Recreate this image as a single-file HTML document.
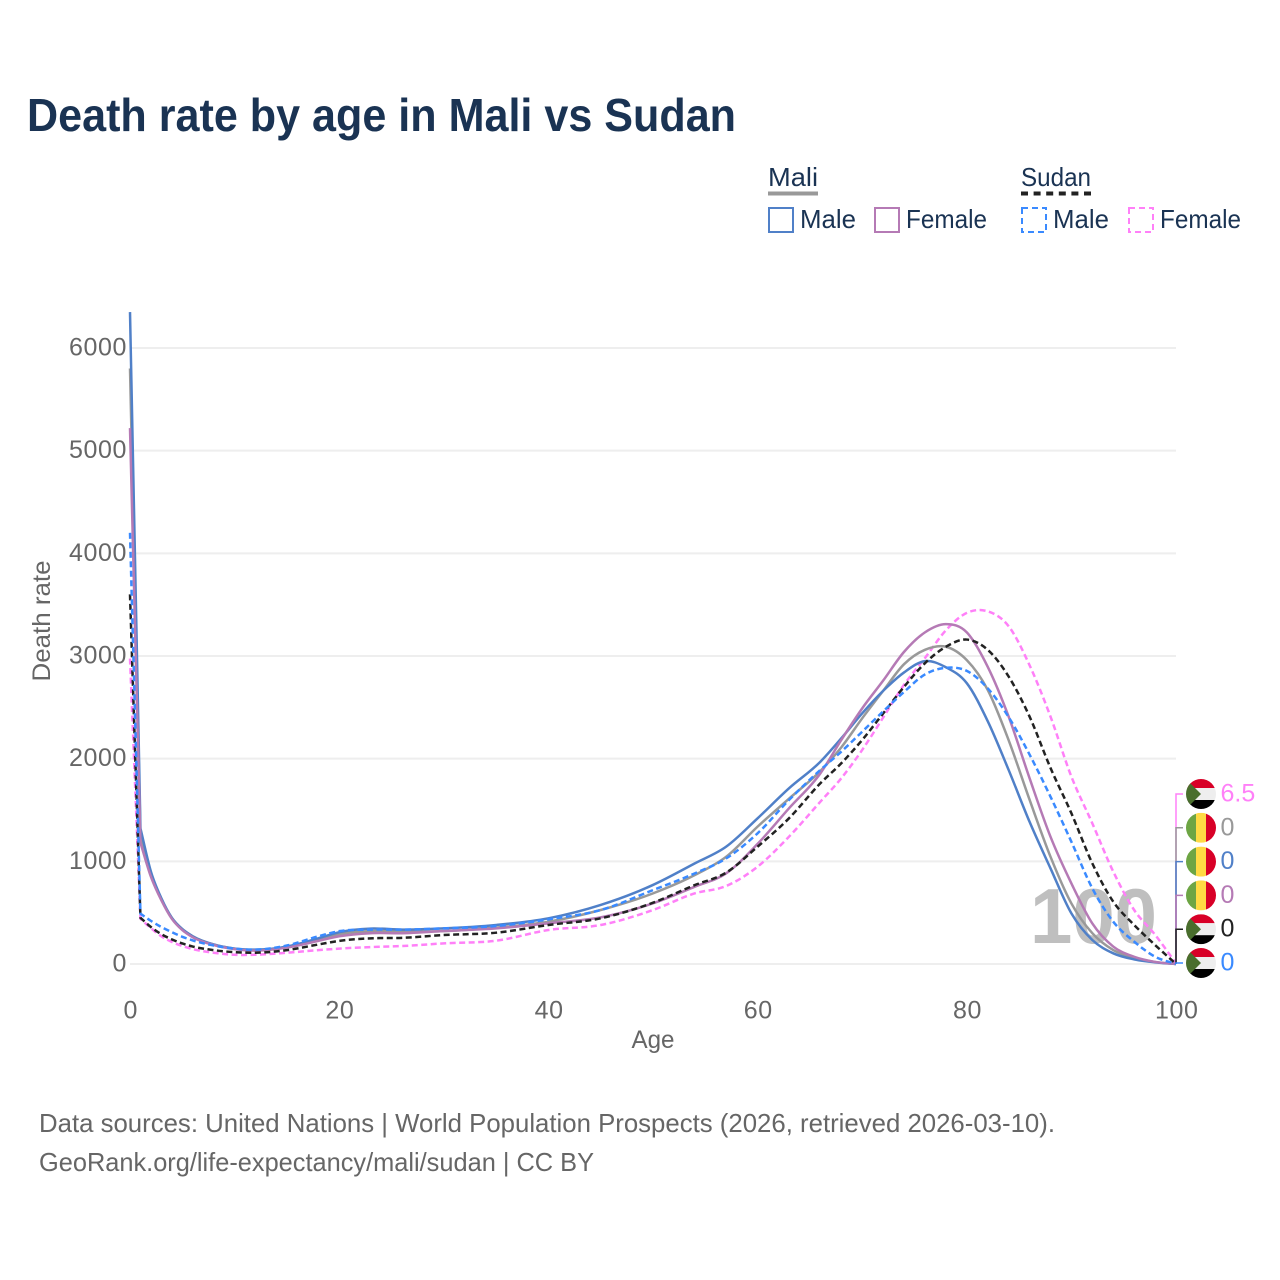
<!DOCTYPE html>
<html lang="en">
<head>
<meta charset="utf-8">
<title>Death rate by age in Mali vs Sudan</title>
<style>
html,body{margin:0;padding:0;background:#fff;}
svg{display:block;font-family:"Liberation Sans",sans-serif;}
</style>
</head>
<body>
<svg id="chart" width="1280" height="1280" viewBox="0 0 1280 1280" xmlns="http://www.w3.org/2000/svg">
  <rect x="0" y="0" width="1280" height="1280" fill="#ffffff"/>
  <text x="27" y="131" font-size="46" font-weight="700" fill="#1a3353" textLength="709" lengthAdjust="spacingAndGlyphs">Death rate by age in Mali vs Sudan</text>

  <g font-size="26" fill="#1a3353">
    <text x="768" y="186" textLength="50" lengthAdjust="spacingAndGlyphs">Mali</text>
    <line x1="768" x2="818" y1="193.500" y2="193.500" stroke="#999999" stroke-width="4"/>
    <text x="1021" y="186" textLength="70" lengthAdjust="spacingAndGlyphs">Sudan</text>
    <line x1="1021" x2="1091" y1="193.500" y2="193.500" stroke="#222222" stroke-width="4" stroke-dasharray="7 5.600"/>

    <rect x="769" y="208" width="24" height="24" fill="none" stroke="#5080c8" stroke-width="2"/>
    <text x="800" y="228" textLength="56" lengthAdjust="spacingAndGlyphs">Male</text>
    <rect x="875" y="208" width="24" height="24" fill="none" stroke="#b57ab5" stroke-width="2"/>
    <text x="906" y="228" textLength="81" lengthAdjust="spacingAndGlyphs">Female</text>
    <rect x="1022" y="208" width="24" height="24" fill="none" stroke="#3a8aff" stroke-width="2" stroke-dasharray="6 4"/>
    <text x="1053" y="228" textLength="56" lengthAdjust="spacingAndGlyphs">Male</text>
    <rect x="1129" y="208" width="24" height="24" fill="none" stroke="#ff80f8" stroke-width="2" stroke-dasharray="6 4"/>
    <text x="1160" y="228" textLength="81" lengthAdjust="spacingAndGlyphs">Female</text>
  </g>

  <g id="grid"></g>
  <text id="watermark" x="1030" y="943" font-size="78" font-weight="700" fill="#bfbfbf" textLength="127" lengthAdjust="spacingAndGlyphs"></text>
  <g id="yticks" font-size="25" fill="#666666" text-anchor="end"></g>
  <g id="xticks" font-size="25" fill="#666666" text-anchor="middle"></g>
  <text x="653" y="1048" font-size="25" fill="#666666" text-anchor="middle" textLength="43" lengthAdjust="spacingAndGlyphs">Age</text>
  <text transform="translate(50,621) rotate(-90)" font-size="25" fill="#666666" text-anchor="middle" textLength="121" lengthAdjust="spacingAndGlyphs">Death rate</text>
  <g id="lines" fill="none" stroke-width="2.500"></g>
  <g id="endlabels"></g>

  <g font-size="26" fill="#666666">
    <text x="39" y="1132" textLength="1016" lengthAdjust="spacingAndGlyphs">Data sources: United Nations | World Population Prospects (2026, retrieved 2026-03-10).</text>
    <text x="39" y="1171" textLength="555" lengthAdjust="spacingAndGlyphs">GeoRank.org/life-expectancy/mali/sudan | CC BY</text>
  </g>
</svg>
<script>
const ages = [0,1,2,3,4,5,6,8,10,12,15,18,20,23,26,30,35,40,45,50,54,57,60,63,66,68,70,72,74,76,78,80,82,84,86,88,90,92,94,96,98,100];
const maliMale = [6350,1320,900,640,450,340,270,190,150,140,170,250,310,345,335,347,380,445,575,770,980,1143,1419,1711,1970,2198,2442,2660,2840,2950,2890,2735,2365,1890,1385,932,493,234,104,45,16,0];
const maliTotal = [5800,1250,880,630,450,340,270,190,150,135,165,240,290,320,315,320,355,412,526,688,867,1045,1338,1610,1880,2110,2393,2660,2920,3060,3090,2960,2670,2180,1600,1045,590,300,136,60,20,0];
const maliFemale = [5220,1180,850,620,440,330,260,185,145,130,160,225,270,300,300,321,347,396,454,591,753,883,1170,1516,1857,2182,2490,2760,3040,3230,3310,3230,2895,2410,1810,1240,785,395,170,70,20,0];
const sudanMale = [4200,490,420,360,310,265,230,180,150,140,180,270,320,335,335,347,370,435,526,720,883,1029,1273,1597,1890,2068,2263,2460,2650,2820,2885,2855,2685,2405,2040,1630,1190,737,412,218,71,0];
const sudanTotal = [3600,450,360,290,240,200,170,135,115,110,135,190,225,250,255,282,305,380,445,597,769,890,1143,1419,1760,1955,2182,2440,2700,2930,3090,3160,3060,2800,2410,1910,1468,980,607,380,185,0];
const sudanFemale = [2975,440,350,270,215,175,145,110,90,90,110,135,150,165,175,201,227,331,380,526,688,760,948,1240,1581,1809,2085,2400,2720,2980,3250,3420,3435,3290,2910,2410,1825,1370,900,526,285,6.5];
const yTickValues = [0,1000,2000,3000,4000,5000,6000];
const xTickValues = [0,20,40,60,80,100];

const svgNS = 'http://www.w3.org/2000/svg';
function xScale(age){ return 130 + age * 10.46; }
function yScale(v){ return 964 - v * 0.10267; }
function make(tag, attrs, parent){
  const el = document.createElementNS(svgNS, tag);
  for (const k in attrs) el.setAttribute(k, attrs[k]);
  parent.appendChild(el);
  return el;
}

const grid = document.getElementById('grid');
const yticks = document.getElementById('yticks');
const xticks = document.getElementById('xticks');
yTickValues.forEach(function(v){
  const gl = make('line', {x1:xScale(0), x2:xScale(100), y1:yScale(v), y2:yScale(v), stroke:'#eeeeee', 'stroke-width':2}, grid);
  
  
  const t = make('text', {x:127, y:yScale(v) + 7.500}, yticks);
  
  
  t.setAttribute('letter-spacing', '0.600');
  t.textContent = String(v);
});
xTickValues.forEach(function(v){
  const t = make('text', {x:xScale(v) + 0.700, y:1018.500}, xticks);
  
  
  t.setAttribute('letter-spacing', '0.600');
  t.textContent = String(v);
});
document.getElementById('watermark').textContent = String(ages[ages.length - 1]);

/* Smooth cubic path through the points; the first segment (age 0 to 1) stays straight. */
function linePath(values){
  const px = ages.map(xScale);
  const py = values.map(yScale);
  const n = px.length;
  const s = [];
  for (let i = 0; i < n - 1; i++) s.push((py[i + 1] - py[i]) / (px[i + 1] - px[i]));
  const m = new Array(n).fill(0);
  m[1] = s[1];
  m[n - 1] = s[n - 2];
  for (let i = 2; i < n - 1; i++) {
    const h0 = px[i] - px[i - 1];
    const h1 = px[i + 1] - px[i];
    m[i] = (s[i - 1] * h1 + s[i] * h0) / (h0 + h1);
  }
  let d = 'M' + px[0].toFixed(2) + ' ' + py[0].toFixed(2) + 'L' + px[1].toFixed(2) + ' ' + py[1].toFixed(2);
  for (let i = 1; i < n - 1; i++) {
    const h = (px[i + 1] - px[i]) / 3;
    d += 'C' + (px[i] + h).toFixed(2) + ' ' + (py[i] + m[i] * h).toFixed(2) + ' ' +
         (px[i + 1] - h).toFixed(2) + ' ' + (py[i + 1] - m[i + 1] * h).toFixed(2) + ' ' +
         px[i + 1].toFixed(2) + ' ' + py[i + 1].toFixed(2);
  }
  return d;
}

const lines = document.getElementById('lines');

const lineSudanFemale = make('path', {d:linePath(sudanFemale), stroke:'#ff80f8', 'stroke-dasharray':'6 3.500'}, lines);



const lineMaliTotal = make('path', {d:linePath(maliTotal), stroke:'#999999'}, lines);



const lineMaliMale = make('path', {d:linePath(maliMale), stroke:'#5080c8'}, lines);



const lineMaliFemale = make('path', {d:linePath(maliFemale), stroke:'#b57ab5'}, lines);



const lineSudanTotal = make('path', {d:linePath(sudanTotal), stroke:'#222222', 'stroke-dasharray':'6 3.500'}, lines);



const lineSudanMale = make('path', {d:linePath(sudanMale), stroke:'#3a8aff', 'stroke-dasharray':'6 3.500'}, lines);



/* End-of-line labels, stacked from top to bottom */
const endGroup = document.getElementById('endlabels');
const endEntries = [
  {values:sudanFemale, color:'#ff80f8', flag:'sudan', slug:'sudan-female'},
  {values:maliTotal, color:'#999999', flag:'mali', slug:'mali-total'},
  {values:maliMale, color:'#5080c8', flag:'mali', slug:'mali-male'},
  {values:maliFemale, color:'#b57ab5', flag:'mali', slug:'mali-female'},
  {values:sudanTotal, color:'#222222', flag:'sudan', slug:'sudan-total'},
  {values:sudanMale, color:'#3a8aff', flag:'sudan', slug:'sudan-male'}
];

function drawFlag(kind, cx, cy, parent){
  const r = 15;
  const clipId = 'flag-clip-' + cx + '-' + Math.round(cy);
  const defs = make('defs', {}, parent);
  const cp = make('clipPath', {id:clipId}, defs);
  make('circle', {cx:cx, cy:cy, r:r}, cp);
  const g = make('g', {'clip-path':'url(#' + clipId + ')'}, parent);
  
  
  if (kind === 'mali') {
    make('rect', {x:cx - r, y:cy - r, width:10, height:30, fill:'#6da544'}, g);
    make('rect', {x:cx - 5, y:cy - r, width:10, height:30, fill:'#ffda44'}, g);
    make('rect', {x:cx + 5, y:cy - r, width:10, height:30, fill:'#d80027'}, g);
  } else {
    make('rect', {x:cx - r, y:cy - r, width:30, height:9, fill:'#d80027'}, g);
    make('rect', {x:cx - r, y:cy - 6, width:30, height:12, fill:'#eeeeee'}, g);
    make('rect', {x:cx - r, y:cy + 6, width:30, height:9, fill:'#000000'}, g);
    make('polygon', {points:(cx - r) + ',' + (cy - 15) + ' ' + cx + ',' + cy + ' ' + (cx - r) + ',' + (cy + 15), fill:'#496e2d'}, g);
  }
}

endEntries.forEach(function(e, i){
  const ly = 794 + i * 33.800;
  const lastValue = e.values[e.values.length - 1];
  const conn = make('path', {
    d:'M' + xScale(100) + ' ' + yScale(lastValue) + 'L' + xScale(100) + ' ' + ly + 'L1183 ' + ly,
    fill:'none', stroke:e.color, 'stroke-width':1.500
  }, endGroup);
  
  
  drawFlag(e.flag, 1201, ly, endGroup);
  const t = make('text', {x:1220.500, y:ly + 7.500, 'font-size':25, fill:e.color}, endGroup);
  
  
  t.textContent = String(lastValue);
});
</script>
</body>
</html>
